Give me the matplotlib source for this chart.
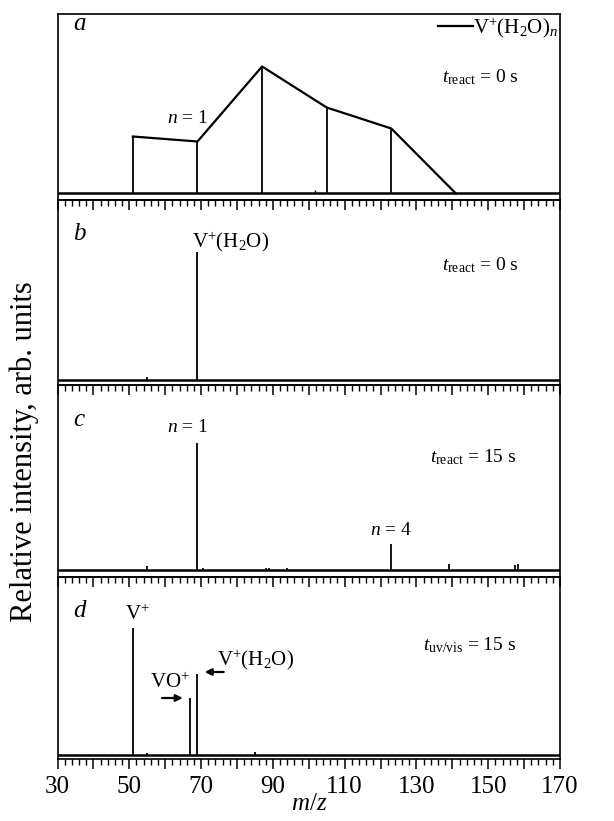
import numpy as np
import matplotlib
matplotlib.use("Agg")
import matplotlib.pyplot as plt
from matplotlib.ticker import MultipleLocator, FuncFormatter
from matplotlib.lines import Line2D

plt.rcParams["font.family"] = ["Liberation Serif", "DejaVu Serif"]
plt.rcParams["mathtext.fontset"] = "custom"
plt.rcParams["mathtext.rm"] = "Liberation Serif"
plt.rcParams["mathtext.it"] = "Liberation Serif:italic"

# m/z of V+(H2O)n, n = 0..5, and peak heights (arb. units)
mz_a = [51, 69, 87, 105, 123, 141]
h_a = [57, 52, 127, 86, 65, 0]
# small baseline features
mz_a_small = [101.7]
h_a_small = [3]

mz_b = [55, 69]
h_b = [3, 128]

mz_c = [55, 69, 70.5, 88, 89, 94, 123, 139, 157.4, 158.2]
h_c = [4, 127, 2, 2, 2, 2, 26, 6, 5, 6]

mz_d = [51, 55, 67, 69, 85]
h_d = [127, 2, 57, 81, 3]

ylims = [(-6.5, 179.5), (-5, 180), (-7, 185), (-4, 178)]
heights = [186, 185, 192, 182]

fig = plt.figure(figsize=(6.14, 8.21), dpi=100)
gs = fig.add_gridspec(4, 1, height_ratios=heights, hspace=0,
                      left=57.5 / 614, right=560 / 614,
                      top=1 - 14 / 821, bottom=1 - 759 / 821)
axes = [fig.add_subplot(gs[i]) for i in range(4)]

lw_peak = 1.3
for i, ax in enumerate(axes):
    ax.set_facecolor("none")
    ax.set_xlim(30, 170)
    ax.set_ylim(*ylims[i])
    ax.plot([30, 170], [0, 0], color="black", lw=1.8, zorder=2)
    for s in ax.spines.values():
        s.set_linewidth(1.2)
    ax.xaxis.set_major_locator(MultipleLocator(10))
    ax.xaxis.set_minor_locator(MultipleLocator(2))
    ax.tick_params(axis="x", which="major", direction="out", length=7, width=1.1,
                   top=False, bottom=True, labelsize=18, pad=5)
    ax.tick_params(axis="x", which="minor", direction="out", length=4, width=1.0,
                   top=False, bottom=True)
    ax.set_yticks([])
    if i < 3:
        ax.tick_params(axis="x", labelbottom=False)
    ax.set_zorder(10 - i)

axd = axes[3]
axd.xaxis.set_major_formatter(FuncFormatter(lambda v, p: f"{v:.0f}" if int(round(v - 30)) % 20 == 0 else ""))
axd.set_xlabel("$m/z$", fontsize=18, labelpad=-3)

fig.text(24 / 614, 1 - 622 / 821, "Relative intensity, arb. units", rotation=90,
         ha="center", va="bottom", fontsize=22)

fs_letter = 18
fs_lab = 14
fs_ion = 15

# panel a
ax = axes[0]
ax.vlines(mz_a[:-1], 0, h_a[:-1], color="black", lw=lw_peak)
env, = ax.plot(mz_a, h_a, color="black", lw=lw_peak + 0.3)
ax.vlines(mz_a_small, 0, h_a_small, color="black", lw=1.0)
ax.text(34.3, 163.5, "$a$", fontsize=fs_letter, va="baseline")
ax.text(60.5, 70.5, "$n$ = 1", fontsize=fs_lab, va="baseline")
ax.text(137.1, 111.5, r"$t_{\mathrm{react}}$ = 0 s", fontsize=fs_lab, va="baseline")
ax.legend([Line2D([], [], color="black", lw=lw_peak + 0.3)],
          [r"V$^{+}$(H$_2$O)$_n$"], loc="upper right", frameon=False,
          fontsize=fs_ion, handlelength=1.7, handletextpad=0.0,
          borderaxespad=0.0, borderpad=0.1)

# panel b
ax = axes[1]
ax.vlines(mz_b, 0, h_b, color="black", lw=lw_peak)
ax.text(34.3, 140, "$b$", fontsize=fs_letter, va="baseline")
ax.text(67.5, 133, r"V$^{+}$(H$_2$O)", fontsize=fs_ion, va="baseline")
ax.text(137.1, 110, r"$t_{\mathrm{react}}$ = 0 s", fontsize=fs_lab, va="baseline")

# panel c
ax = axes[2]
ax.vlines(mz_c, 0, h_c, color="black", lw=lw_peak)
ax.text(34.3, 144, "$c$", fontsize=fs_letter, va="baseline")
ax.text(60.5, 138, "$n$ = 1", fontsize=fs_lab, va="baseline")
ax.text(117.1, 35, "$n$ = 4", fontsize=fs_lab, va="baseline")
ax.text(133.8, 108, r"$t_{\mathrm{react}}$ = 15 s", fontsize=fs_lab, va="baseline")

# panel d
ax = axes[3]
ax.vlines(mz_d, 0, h_d, color="black", lw=lw_peak)
ax.text(34.3, 138, "$d$", fontsize=fs_letter, va="baseline")
ax.text(48.8, 135, r"V$^{+}$", fontsize=fs_ion, va="baseline")
ax.text(55.8, 67, r"VO$^{+}$", fontsize=fs_ion, va="baseline")
ax.text(74.4, 90, r"V$^{+}$(H$_2$O)", fontsize=fs_ion, va="baseline")
ax.annotate("", xy=(64.9, 57), xytext=(59.1, 57),
            arrowprops=dict(arrowstyle="-|>", color="black", lw=1.6,
                            mutation_scale=10, shrinkA=0, shrinkB=0))
ax.annotate("", xy=(71.0, 83), xytext=(76.3, 83),
            arrowprops=dict(arrowstyle="-|>", color="black", lw=1.6,
                            mutation_scale=10, shrinkA=0, shrinkB=0))
ax.text(131.8, 105, r"$t_{\mathrm{uv/vis}}$ = 15 s", fontsize=fs_lab, va="baseline")

fig.savefig("out.png", dpi=100)
